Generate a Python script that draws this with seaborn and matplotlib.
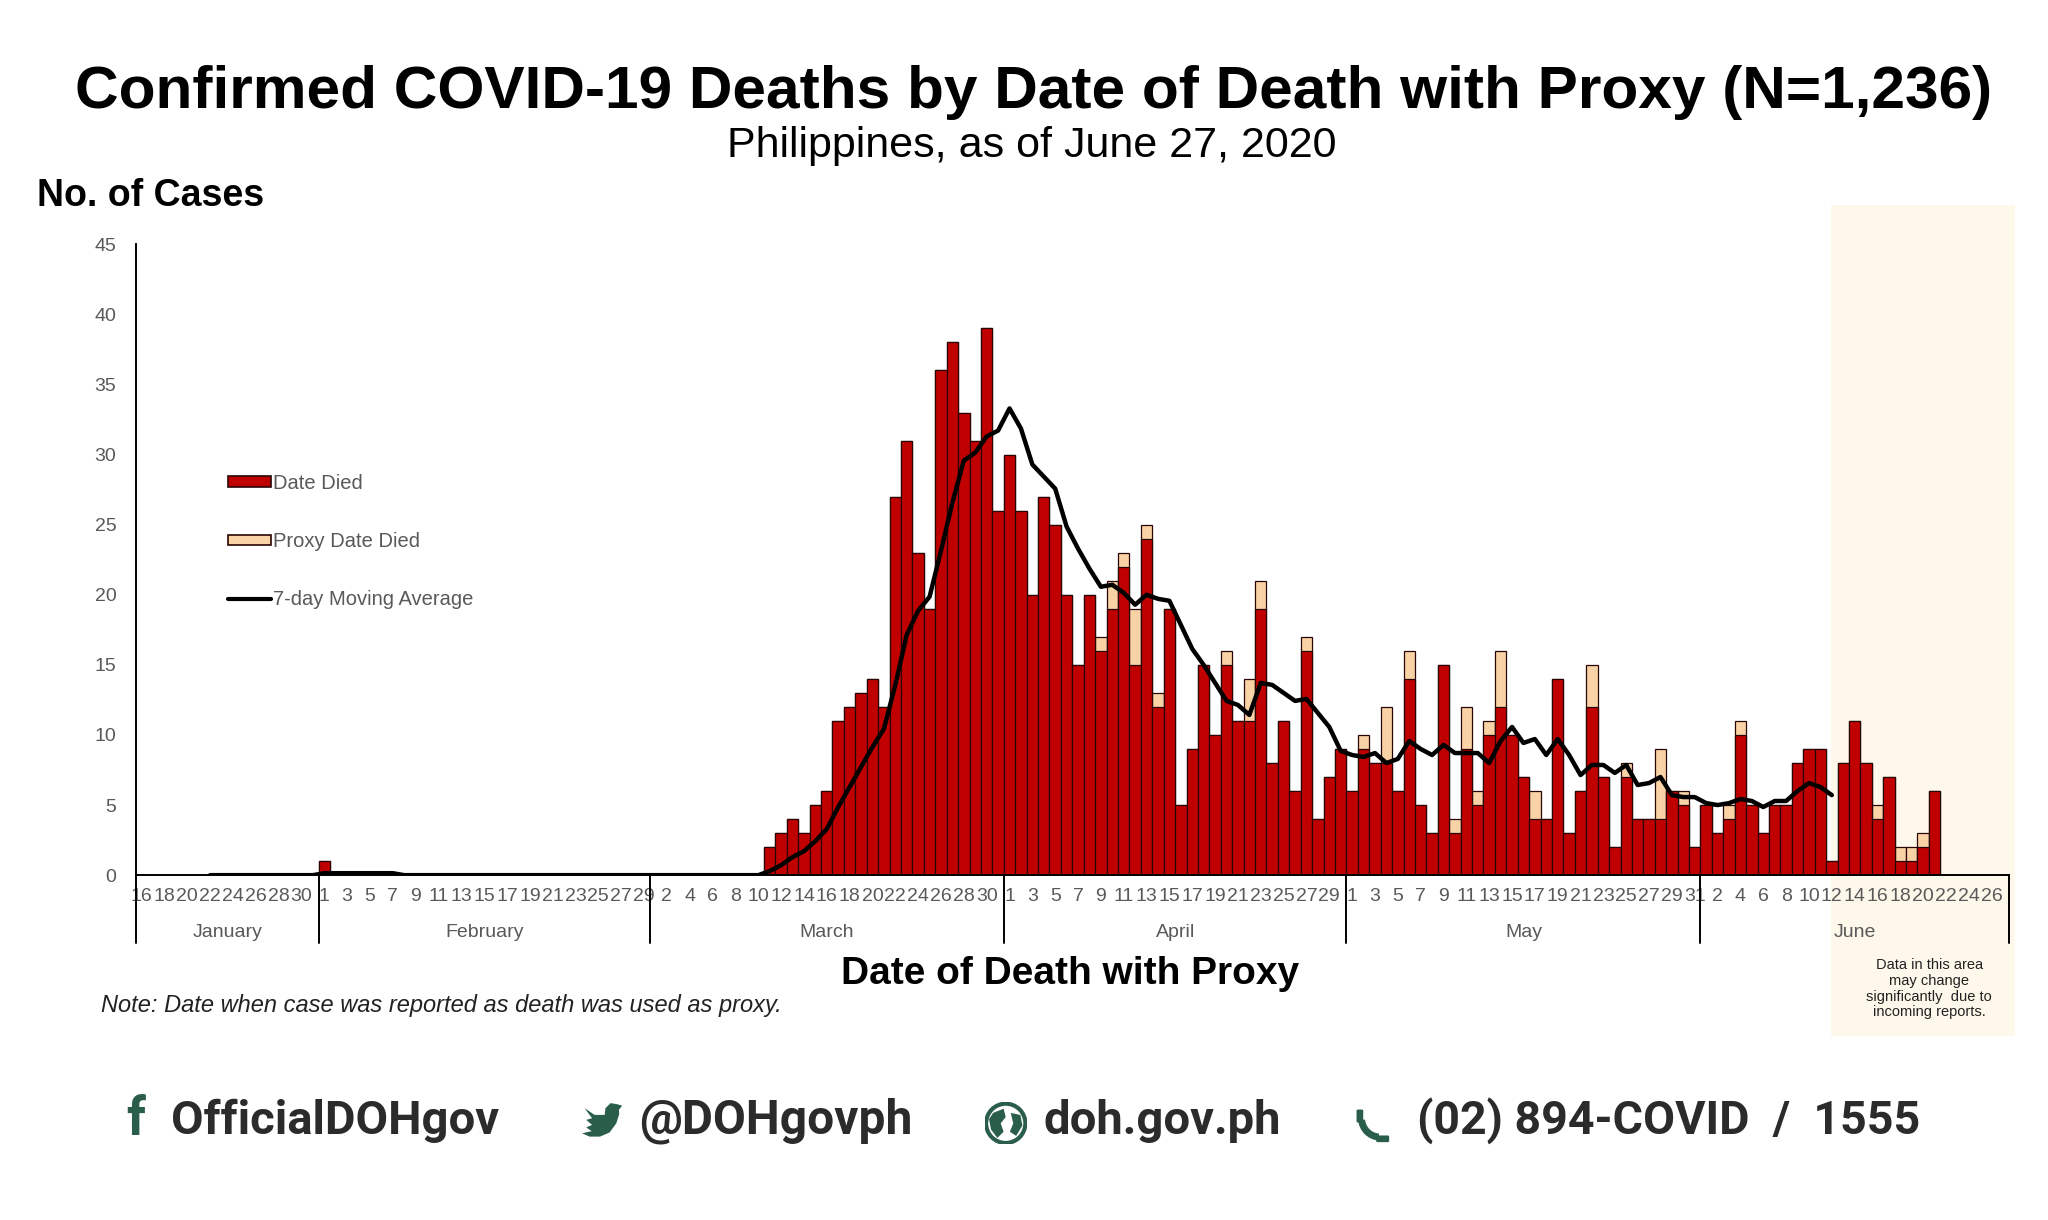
import numpy as np
import pandas as pd
import matplotlib
matplotlib.use("Agg")
import matplotlib.pyplot as plt
import matplotlib.patches as mpatches
from matplotlib.lines import Line2D
import matplotlib.transforms as mtransforms
import seaborn as sns

# ---------------- data ----------------
# Confirmed deaths by date died (red) and proxy date died (peach), per day
died_jan = [0] * 16                                   # Jan 16-31
died_feb = [1] + [0] * 28                             # Feb 1-29
died_mar = [0] * 10 + [2, 3, 4, 3, 5, 6, 11, 12, 13, 14, 12, 27, 31, 23, 19,
                       36, 38, 33, 31, 39, 26]        # Mar 1-31
died_apr = [30, 26, 20, 27, 25, 20, 15, 20, 16, 19, 22, 15, 24, 12, 19,
            5, 9, 15, 10, 15, 11, 11, 19, 8, 11, 6, 16, 4, 7, 9]
died_may = [6, 9, 8, 8, 6, 14, 5, 3, 15, 3, 9, 5, 10, 12, 10, 7, 4, 4, 14,
            3, 6, 12, 7, 2, 7, 4, 4, 4, 6, 5, 2]
died_jun = [5, 3, 4, 10, 5, 3, 5, 5, 8, 9, 9, 1, 8, 11, 8, 4, 7, 1, 1, 2, 6,
            0, 0, 0, 0, 0, 0]                         # Jun 1-27

proxy_jan = [0] * 16
proxy_feb = [0] * 29
proxy_mar = [0] * 31
proxy_apr = [0, 0, 0, 0, 0, 0, 0, 0, 1, 2, 1, 4, 1, 1, 0, 0, 0, 0, 0, 1,
             0, 3, 2, 0, 0, 0, 1, 0, 0, 0]
proxy_may = [0, 1, 0, 4, 0, 2, 0, 0, 0, 1, 3, 1, 1, 4, 0, 0, 2, 0, 0, 0,
             0, 3, 0, 0, 1, 0, 0, 5, 0, 1, 0]
proxy_jun = [0, 0, 1, 1, 0, 0, 0, 0, 0, 0, 0, 0, 0, 0, 0, 1, 0, 1, 1, 1, 0,
             0, 0, 0, 0, 0, 0]

# 7-day moving average (Jan 22 - Jun 12)
ma_jan = [0] * 10
ma_feb = [0.14] * 7 + [0] * 22
ma_mar = [0] * 10 + [0.29, 0.71, 1.29, 1.71, 2.43, 3.29, 4.86, 6.29, 7.71, 9.14,
                     10.43, 13.57, 17.14, 18.86, 19.86, 23.14, 26.57, 29.57,
                     30.14, 31.29, 31.71]
ma_apr = [33.29, 31.86, 29.29, 28.43, 27.57, 24.86, 23.29, 21.86, 20.57, 20.71,
          20.14, 19.29, 20.00, 19.71, 19.57, 17.86, 16.14, 15.00, 13.71, 12.43,
          12.14, 11.43, 13.71, 13.57, 13.00, 12.43, 12.57, 11.57, 10.57, 8.86]
ma_may = [8.57, 8.43, 8.71, 8.00, 8.29, 9.57, 9.00, 8.57, 9.29, 8.71, 8.71,
          8.71, 8.00, 9.57, 10.57, 9.43, 9.71, 8.57, 9.71, 8.57, 7.14, 7.86,
          7.86, 7.29, 7.86, 6.43, 6.57, 7.00, 5.71, 5.57, 5.57]
ma_jun = [5.14, 5.00, 5.14, 5.43, 5.29, 4.86, 5.29, 5.29, 6.00, 6.57, 6.29, 5.71]

months = ["January", "February", "March", "April", "May", "June"]
start_date = "2020-01-16"
end_date = "2020-06-27"
ma_start = "2020-01-22"

# ---------------- assemble ----------------
dates = pd.date_range(start_date, end_date, freq="D")
died = np.array(died_jan + died_feb + died_mar + died_apr + died_may + died_jun)
proxy = np.array(proxy_jan + proxy_feb + proxy_mar + proxy_apr + proxy_may + proxy_jun)
pos = np.arange(len(dates))
df = pd.DataFrame({"pos": pos, "died": died, "total": died + proxy})

ma_vals = np.array(ma_jan + ma_feb + ma_mar + ma_apr + ma_may + ma_jun)
ma_first = int(np.where(dates == pd.Timestamp(ma_start))[0][0])
ma_pos = np.arange(ma_first, ma_first + len(ma_vals))

RED = "#C00000"
PEACH = "#F9D3A6"
EDGE = "#2a0505"
GRAY = "#595959"
GREEN = "#2A5E4A"
CREAM = "#FDF8EA"

sns.set_style("white")
plt.rcParams["font.family"] = ["Liberation Sans", "DejaVu Sans"]

W, H = 1568.0, 934.0          # layout measured on the reference thumbnail
def fx(x):
    return x / W
def fy(y):
    return 1 - y / H

fig = plt.figure(figsize=(20.48, 12.20), dpi=100)
fig.patch.set_facecolor("white")
ax = fig.add_axes([fx(104), fy(670), fx(1538) - fx(104), fy(187) - fy(670)])
ax.patch.set_alpha(0)

sns.barplot(data=df, x="pos", y="total", color=PEACH, saturation=1, width=1.0,
            edgecolor=EDGE, linewidth=0.9, ax=ax, zorder=2)
sns.barplot(data=df, x="pos", y="died", color=RED, saturation=1, width=1.0,
            edgecolor=EDGE, linewidth=0.9, ax=ax, zorder=2)
sns.lineplot(x=ma_pos, y=ma_vals, color="black", linewidth=3.2, ax=ax, zorder=4)

ax.set_xlim(-0.5, len(dates) - 0.5)
ax.set_ylim(0, 45)
ax.set_yticks(np.arange(0, 46, 5))
ax.set_xticks(pos[::2])
ax.set_xticklabels([str(d.day) for d in dates[::2]])
ax.tick_params(axis="x", length=0, pad=9, labelsize=14, labelcolor=GRAY)
ax.tick_params(axis="y", length=0, pad=14, labelsize=14, labelcolor=GRAY)
ax.set_xlabel("")
ax.set_ylabel("")
for s in ["top", "right"]:
    ax.spines[s].set_visible(False)
for s in ["left", "bottom"]:
    ax.spines[s].set_color("black")
    ax.spines[s].set_linewidth(1.4)
    ax.spines[s].set_zorder(5)

# month separators and labels
trans = mtransforms.blended_transform_factory(ax.transData, ax.transAxes)
bounds = [-0.5]
for m in range(2, 7):
    first = int(np.where((dates.month == m) & (dates.day == 1))[0][0])
    bounds.append(first - 0.5)
bounds.append(len(dates) - 0.5)
for b in bounds:
    ax.add_line(Line2D([b, b], [0, -0.108], transform=trans, color="black",
                       linewidth=1.4, clip_on=False))
for i, name in enumerate(months):
    ax.text((bounds[i] + bounds[i + 1]) / 2, -0.091, name, transform=trans,
            ha="center", va="center", fontsize=14, color=GRAY)

# shaded "incomplete data" area
x_fig = fig.transFigure.inverted().transform(ax.transData.transform((147.9, 0)))[0]
fig.patches.append(mpatches.Rectangle((x_fig, fy(793)), fx(1543) - x_fig,
                                      fy(157) - fy(793), transform=fig.transFigure,
                                      facecolor=CREAM, edgecolor="none", zorder=-5))
fig.text(fx(1477), fy(757), "Data in this area\nmay change\nsignificantly  due to\nincoming reports.",
         ha="center", va="center", fontsize=10.5, color="#222222", linespacing=1.15)

# legend
handles = [mpatches.Patch(facecolor=RED, edgecolor=EDGE, linewidth=1.2, label="Date Died"),
           mpatches.Patch(facecolor=PEACH, edgecolor=EDGE, linewidth=1.2, label="Proxy Date Died"),
           Line2D([0], [0], color="black", linewidth=3, label="7-day Moving Average")]
leg = ax.legend(handles=handles, loc="upper left",
                bbox_to_anchor=(fx(161 - 104) / (fx(1538) - fx(104)), 0.665),
                frameon=False, fontsize=14.5, labelspacing=1.95, handlelength=2.1,
                handleheight=0.4, handletextpad=0.1, labelcolor=GRAY)

# titles and labels
fig.text(fx(791), fy(71), "Confirmed COVID-19 Deaths by Date of Death with Proxy (N=1,236)",
         ha="center", va="center", fontsize=43.5, fontweight="bold", color="black")
fig.text(fx(790), fy(112), "Philippines, as of June 27, 2020",
         ha="center", va="center", fontsize=31, color="black")
fig.text(fx(28), fy(150), "No. of Cases", ha="left", va="center",
         fontsize=27, fontweight="bold", color="black")
fig.text(fx(819), fy(746), "Date of Death with Proxy", ha="center", va="center",
         fontsize=28, fontweight="bold", color="black")
fig.text(fx(77), fy(770), "Note: Date when case was reported as death was used as proxy.",
         ha="left", va="center", fontsize=17, fontstyle="italic", color="#222222")

# footer
FOOT = "#2b2b2b"
fy_f = fy(858)
ff = ["Roboto", "DejaVu Sans"]
fig.text(fx(97), fy_f, "f", ha="left", va="center", fontsize=38, fontweight="bold",
         color=GREEN, family=ff)
fig.text(fx(131), fy_f, "OfficialDOHgov", ha="left", va="center", fontsize=34,
         fontweight="bold", color=FOOT, family=ff)
fig.text(fx(489), fy_f, "@DOHgovph", ha="left", va="center", fontsize=34.5,
         fontweight="bold", color=FOOT, family=ff)
fig.text(fx(799), fy_f, "doh.gov.ph", ha="left", va="center", fontsize=34,
         fontweight="bold", color=FOOT, family=ff)
fig.text(fx(1085), fy_f, "(02) 894-COVID  /  1555", ha="left", va="center", fontsize=33.5,
         fontweight="bold", color=FOOT, family=ff)

def icon_ax(cx, cy, size):
    a = fig.add_axes([fx(cx - size / 2), fy(cy + size / 2), fx(size), size / H])
    a.set_xlim(0, 1)
    a.set_ylim(0, 1)
    a.set_aspect("equal", adjustable="datalim")
    a.axis("off")
    return a

# bird
a = icon_ax(461, 858, 32)
bird = [(0.98, 0.86), (0.90, 0.76), (0.91, 0.66), (0.84, 0.44), (0.68, 0.22),
        (0.45, 0.12), (0.20, 0.12), (0.02, 0.20), (0.25, 0.25), (0.12, 0.34),
        (0.26, 0.40), (0.12, 0.52), (0.26, 0.56), (0.08, 0.80), (0.32, 0.64),
        (0.56, 0.64), (0.58, 0.80), (0.70, 0.92), (0.84, 0.90)]
a.add_patch(mpatches.Polygon(bird, closed=True, facecolor=GREEN, edgecolor="none"))
# globe
a = icon_ax(770, 860, 32)
a.add_patch(mpatches.Circle((0.5, 0.5), 0.47, facecolor="white", edgecolor=GREEN, linewidth=3))
a.add_patch(mpatches.Polygon([(0.2, 0.75), (0.45, 0.85), (0.5, 0.65), (0.38, 0.5),
                              (0.45, 0.3), (0.3, 0.15), (0.15, 0.35), (0.1, 0.6)],
                             facecolor=GREEN, edgecolor="none"))
a.add_patch(mpatches.Polygon([(0.62, 0.75), (0.85, 0.7), (0.9, 0.45), (0.75, 0.2),
                              (0.6, 0.3), (0.68, 0.5)], facecolor=GREEN, edgecolor="none"))
# phone
a = icon_ax(1053, 860, 32)
a.add_patch(mpatches.Arc((0.62, 0.62), 0.9, 0.9, theta1=185, theta2=265,
                         color=GREEN, linewidth=5))
a.add_patch(mpatches.FancyBboxPatch((0.08, 0.55), 0.1, 0.25, boxstyle="round,pad=0.03",
                                    facecolor=GREEN, edgecolor="none"))
a.add_patch(mpatches.FancyBboxPatch((0.55, 0.08), 0.25, 0.1, boxstyle="round,pad=0.03",
                                    facecolor=GREEN, edgecolor="none"))

fig.savefig("out.png", dpi=100, facecolor="white")
